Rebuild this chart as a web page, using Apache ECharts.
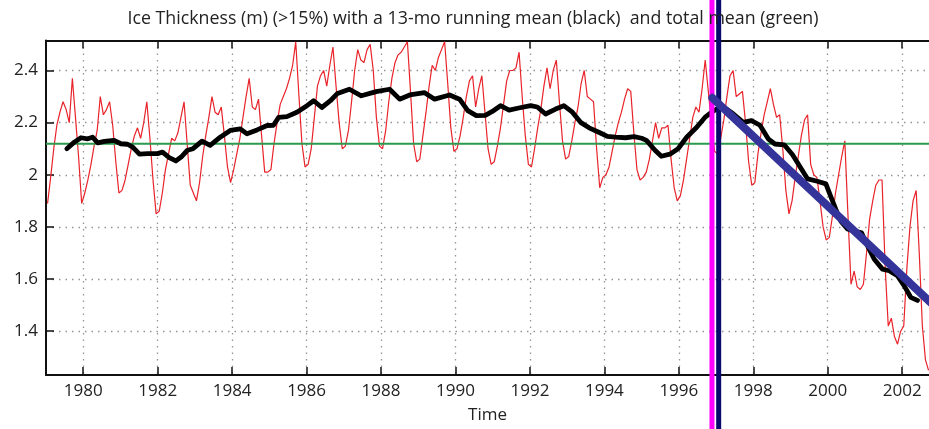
<!DOCTYPE html>
<html><head><meta charset="utf-8">
<script src="https://cdn.jsdelivr.net/npm/echarts@6/dist/echarts.min.js"></script>
<style>html,body{margin:0;padding:0;background:#fff}#c{width:929px;height:429px}</style>
</head><body><div id="c"></div>
<script>
// monthly ice thickness (m), Jan 1979 onward
const startYear = 1979;
const iceThickness = [
  1.89, 1.99, 2.10, 2.19, 2.24, 2.28, 2.25, 2.20, 2.37, 2.22, 2.07, 1.89, // 1979
  1.93, 1.98, 2.04, 2.11, 2.17, 2.30, 2.23, 2.25, 2.28, 2.19, 2.05, 1.93, // 1980
  1.94, 1.98, 2.04, 2.10, 2.15, 2.18, 2.14, 2.20, 2.28, 2.14, 1.98, 1.85, // 1981
  1.86, 1.93, 2.02, 2.08, 2.14, 2.13, 2.16, 2.22, 2.28, 2.12, 1.96, 1.93, // 1982
  1.90, 1.97, 2.07, 2.15, 2.22, 2.30, 2.24, 2.23, 2.26, 2.15, 2.03, 1.97, // 1983
  2.02, 2.08, 2.14, 2.22, 2.30, 2.37, 2.26, 2.25, 2.29, 2.15, 2.01, 2.01, // 1984
  2.02, 2.12, 2.20, 2.27, 2.30, 2.33, 2.37, 2.42, 2.51, 2.31, 2.12, 2.03, // 1985
  2.04, 2.10, 2.22, 2.34, 2.38, 2.40, 2.34, 2.42, 2.49, 2.34, 2.20, 2.10, // 1986
  2.11, 2.17, 2.28, 2.40, 2.48, 2.44, 2.43, 2.48, 2.50, 2.40, 2.22, 2.11, // 1987
  2.10, 2.17, 2.28, 2.37, 2.43, 2.46, 2.47, 2.49, 2.51, 2.32, 2.12, 2.05, // 1988
  2.06, 2.15, 2.24, 2.34, 2.42, 2.40, 2.45, 2.48, 2.51, 2.35, 2.18, 2.09, // 1989
  2.10, 2.15, 2.22, 2.30, 2.36, 2.38, 2.26, 2.33, 2.38, 2.24, 2.10, 2.04, // 1990
  2.05, 2.11, 2.18, 2.27, 2.36, 2.40, 2.40, 2.41, 2.47, 2.30, 2.15, 2.04, // 1991
  2.03, 2.10, 2.18, 2.25, 2.34, 2.41, 2.33, 2.40, 2.44, 2.28, 2.13, 2.06, // 1992
  2.07, 2.13, 2.20, 2.26, 2.35, 2.40, 2.30, 2.29, 2.28, 2.10, 1.95, 1.99, // 1993
  2.00, 2.03, 2.09, 2.15, 2.20, 2.24, 2.29, 2.33, 2.32, 2.16, 2.02, 1.98, // 1994
  1.99, 2.01, 2.06, 2.13, 2.20, 2.14, 2.18, 2.18, 2.19, 2.06, 1.95, 1.90, // 1995
  1.92, 1.98, 2.06, 2.14, 2.22, 2.26, 2.24, 2.33, 2.44, 2.32, 2.20, 2.09, // 1996
  2.08, 2.14, 2.21, 2.30, 2.38, 2.40, 2.30, 2.31, 2.32, 2.20, 2.05, 1.96, // 1997
  1.97, 2.08, 2.16, 2.23, 2.28, 2.33, 2.27, 2.22, 2.23, 2.10, 1.94, 1.85, // 1998
  1.90, 1.99, 2.07, 2.15, 2.21, 2.23, 2.04, 2.00, 1.99, 1.90, 1.80, 1.75, // 1999
  1.76, 1.84, 1.93, 2.00, 2.07, 2.13, 1.85, 1.58, 1.63, 1.57, 1.56, 1.58, // 2000
  1.70, 1.83, 1.90, 1.96, 1.98, 1.98, 1.65, 1.42, 1.45, 1.38, 1.35, 1.40, // 2001
  1.42, 1.64, 1.80, 1.90, 1.94, 1.70, 1.42, 1.29, 1.25                    // 2002
];

// 13-month running mean (black)
const runMeanYears = [
  1979.56, 1979.76, 1979.94, 1980.12, 1980.25, 1980.39, 1980.57, 1980.83, 1981.01, 1981.19,
  1981.33, 1981.51, 1981.73, 1982.00, 1982.13, 1982.31, 1982.49, 1982.63, 1982.80, 1982.95,
  1983.19, 1983.41, 1983.68, 1983.95, 1984.22, 1984.40, 1984.67, 1984.94, 1985.11, 1985.25,
  1985.47, 1985.74, 1986.01, 1986.19, 1986.41, 1986.64, 1986.83, 1987.15, 1987.47, 1987.87,
  1988.23, 1988.50, 1988.77, 1989.17, 1989.44, 1989.84, 1990.11, 1990.33, 1990.56, 1990.80,
  1990.99, 1991.21, 1991.44, 1991.70, 1992.02, 1992.20, 1992.42, 1992.69, 1992.91, 1993.14,
  1993.36, 1993.59, 1993.85, 1994.08, 1994.30, 1994.57, 1994.80, 1995.00, 1995.13, 1995.36,
  1995.53, 1995.76, 1995.98, 1996.21, 1996.48, 1996.70, 1996.88, 1997.05, 1997.25, 1997.45,
  1997.73, 1997.95, 1998.18, 1998.40, 1998.58, 1998.83, 1999.05, 1999.28, 1999.46, 1999.72,
  1999.95, 2000.08, 2000.22, 2000.35, 2000.53, 2000.71, 2000.91, 2001.07, 2001.25, 2001.47,
  2001.65, 2001.87, 2002.05, 2002.23, 2002.41
];
const runMeanValues = [
  2.100, 2.125, 2.142, 2.138, 2.144, 2.122, 2.128, 2.132, 2.119, 2.117,
  2.106, 2.079, 2.081, 2.081, 2.087, 2.066, 2.053, 2.068, 2.094, 2.100,
  2.129, 2.113, 2.144, 2.170, 2.176, 2.157, 2.172, 2.189, 2.190, 2.220,
  2.223, 2.240, 2.265, 2.284, 2.258, 2.284, 2.312, 2.328, 2.303, 2.319,
  2.328, 2.290, 2.306, 2.315, 2.290, 2.306, 2.290, 2.246, 2.227, 2.228,
  2.243, 2.265, 2.248, 2.256, 2.265, 2.260, 2.233, 2.252, 2.265, 2.240,
  2.201, 2.180, 2.163, 2.147, 2.144, 2.142, 2.146, 2.140, 2.132, 2.094,
  2.071, 2.079, 2.100, 2.144, 2.182, 2.220, 2.240, 2.255, 2.255, 2.235,
  2.201, 2.208, 2.190, 2.138, 2.118, 2.115, 2.078, 2.025, 1.984, 1.975,
  1.965, 1.917, 1.866, 1.822, 1.792, 1.784, 1.777, 1.727, 1.676, 1.638,
  1.632, 1.613, 1.575, 1.530, 1.518
];

const totalMean = 2.119;
const trendYears = [1996.9, 2003.1];
const trendValues = [2.295, 1.465];
const markerYears = [1996.89, 1997.07];   // magenta, navy
const xTicks = [1980, 1982, 1984, 1986, 1988, 1990, 1992, 1994, 1996, 1998, 2000, 2002];
const yTicks = [1.4, 1.6, 1.8, 2, 2.2, 2.4];
const titleText = 'Ice Thickness (m) (>15%) with a 13-mo running mean (black)  and total mean (green)';

const X_MIN = 1979, X_MAX = 2002.72, Y_MIN = 1.232, Y_MAX = 2.515;
const FONT = 'Open Sans';
const dotted = { type: [1.5, 5], color: '#959595', width: 1.3 };
const axisLine = { show: true, lineStyle: { color: '#111', width: 2 } };

const chart = echarts.init(document.getElementById('c'), null, { renderer: 'canvas' });
chart.setOption({
  animation: false,
  backgroundColor: '#fff',
  title: {
    text: titleText, left: 468, top: 5, textAlign: 'center',
    textStyle: { fontFamily: FONT, fontSize: 17.8, fontWeight: 'normal', color: '#222' }
  },
  grid: [
    { left: 46, top: 40.5, right: 0, height: 337.8 },
    { left: 46, top: 0, right: 0, height: 429 }
  ],
  xAxis: [
    {
      gridIndex: 0, type: 'value', min: X_MIN, max: X_MAX, position: 'bottom',
      axisLine: axisLine,
      axisTick: { show: true, inside: true, length: 8, customValues: xTicks, lineStyle: { color: '#111', width: 1.5 } },
      axisLabel: { customValues: xTicks, fontFamily: FONT, fontSize: 17, color: '#222', margin: 8, formatter: v => String(v) },
      splitLine: { show: true, lineStyle: dotted },
      name: 'Time', nameLocation: 'middle', nameGap: 32,
      nameTextStyle: { fontFamily: FONT, fontSize: 17, color: '#222' }
    },
    {
      gridIndex: 0, type: 'value', min: X_MIN, max: X_MAX, position: 'top',
      axisLine: axisLine,
      axisTick: { show: true, inside: true, length: 8, customValues: xTicks, lineStyle: { color: '#111', width: 1.5 } },
      axisLabel: { show: false }, splitLine: { show: false }
    },
    { gridIndex: 1, type: 'value', min: X_MIN, max: X_MAX, show: false }
  ],
  yAxis: [
    {
      gridIndex: 0, type: 'value', min: Y_MIN, max: Y_MAX,
      axisLine: axisLine,
      axisTick: { show: true, inside: true, length: 8, customValues: yTicks, lineStyle: { color: '#111', width: 1.5 } },
      axisLabel: { customValues: yTicks, fontFamily: FONT, fontSize: 17, color: '#222', margin: 8 },
      splitLine: { show: true, lineStyle: dotted }
    },
    { gridIndex: 1, type: 'value', min: 0, max: 1, show: false }
  ],
  series: [
    {
      name: 'monthly', type: 'line', xAxisIndex: 0, yAxisIndex: 0, z: 2,
      data: iceThickness.map((v, i) => [startYear + (i + 0.5) / 12, v]),
      showSymbol: false, symbol: 'none', lineStyle: { color: '#e8232a', width: 1.2 }
    },
    {
      name: 'total mean', type: 'line', xAxisIndex: 0, yAxisIndex: 0, z: 3,
      data: [[X_MIN, totalMean], [X_MAX, totalMean]],
      symbol: 'none', lineStyle: { color: '#2a9a4c', width: 2 }
    },
    {
      name: 'running mean', type: 'line', xAxisIndex: 0, yAxisIndex: 0, z: 4,
      data: runMeanYears.map((y, i) => [y, runMeanValues[i]]),
      symbol: 'none', lineStyle: { color: '#000', width: 4.8, cap: 'round', join: 'round' }
    },
    {
      name: 'magenta', type: 'line', xAxisIndex: 2, yAxisIndex: 1, z: 5,
      data: [[markerYears[0], 0], [markerYears[0], 1]],
      symbol: 'none', lineStyle: { color: '#ff00ff', width: 5 }
    },
    {
      name: 'navy', type: 'line', xAxisIndex: 2, yAxisIndex: 1, z: 5,
      data: [[markerYears[1], 0], [markerYears[1], 1]],
      symbol: 'none', lineStyle: { color: '#0b0b6e', width: 5 }
    },
    {
      name: 'trend', type: 'line', xAxisIndex: 0, yAxisIndex: 0, z: 6, clip: false,
      data: trendYears.map((y, i) => [y, trendValues[i]]),
      symbol: 'none', lineStyle: { color: '#34349a', width: 8, cap: 'round' }
    }
  ]
});
</script>
</body></html>
